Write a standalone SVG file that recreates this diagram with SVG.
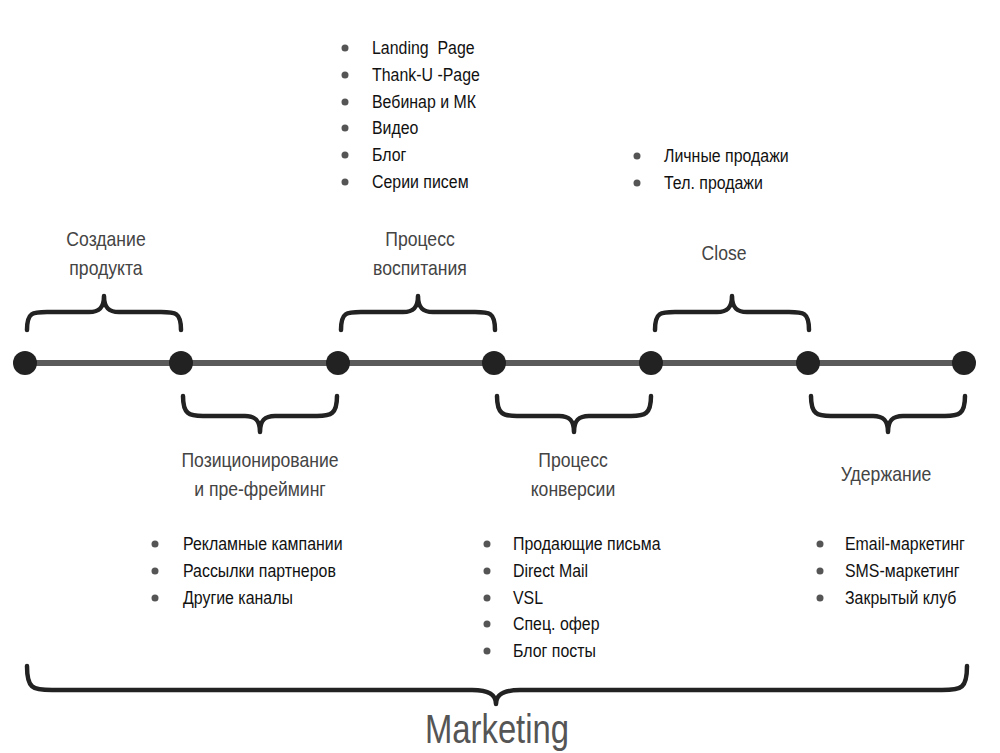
<svg xmlns="http://www.w3.org/2000/svg" width="1000" height="753" viewBox="0 0 1000 753">
<style>
.lbl{font-family:"Liberation Sans",sans-serif;font-size:20px;fill:#444;text-anchor:middle}
.it{font-family:"Liberation Sans",sans-serif;font-size:18.5px;fill:#111}
.bul{fill:#555}
.br{fill:none;stroke:#222;stroke-width:4.5;stroke-linecap:round;stroke-linejoin:round}
.dot{fill:#222}
.mk{font-family:"Liberation Sans",sans-serif;font-size:41px;fill:#555;text-anchor:middle}
</style>
<defs>
<path id="bt" class="br" d="M0,330 C0,312 6,312 20,312 L62,312 C72,312 77,308 77,296 C77,308 82,312 92,312 L134,312 C148,312 154,312 154,330"/>
<path id="bb" class="br" d="M0,396 C0,414 6,416 20,416 L62,416 C72,416 77,420 77,432 C77,420 82,416 92,416 L134,416 C148,416 154,414 154,396"/>
</defs>
<g id="connectors">
<line x1="25" y1="363" x2="964" y2="363" stroke="#5a5a5a" stroke-width="6"/>
<use href="#bt" x="27"/>
<use href="#bt" x="341"/>
<use href="#bt" x="655"/>
<use href="#bb" x="183"/>
<use href="#bb" x="497"/>
<use href="#bb" x="811"/>
<path class="br" d="M27,666 C27,688 32,690 52,690 L472,690 C488,690 496,694 496,704 C496,694 504,690 520,690 L942,690 C962,690 967,688 967,666"/>
</g>
<g id="n0"><circle class="dot" cx="25" cy="363" r="12"/></g>
<g id="n1"><circle class="dot" cx="181" cy="363" r="12"/></g>
<g id="n2"><circle class="dot" cx="338" cy="363" r="12"/></g>
<g id="n3"><circle class="dot" cx="494" cy="363" r="12"/></g>
<g id="n4"><circle class="dot" cx="651" cy="363" r="12"/></g>
<g id="n5"><circle class="dot" cx="808" cy="363" r="12"/></g>
<g id="n6"><circle class="dot" cx="964" cy="363" r="12"/></g>
<g id="l-create" transform="translate(106,0) scale(0.88,1)"><text class="lbl" x="0" y="246">Создание</text><text class="lbl" x="0" y="275">продукта</text></g>
<g id="l-nurture" transform="translate(420,0) scale(0.88,1)"><text class="lbl" x="0" y="246">Процесс</text><text class="lbl" x="0" y="275">воспитания</text></g>
<g id="l-close" transform="translate(724,0) scale(0.88,1)"><text class="lbl" x="0" y="260">Close</text></g>
<g id="l-pos" transform="translate(260,0) scale(0.88,1)"><text class="lbl" x="0" y="467">Позиционирование</text><text class="lbl" x="0" y="496">и пре-фрейминг</text></g>
<g id="l-conv" transform="translate(573,0) scale(0.88,1)"><text class="lbl" x="0" y="467">Процесс</text><text class="lbl" x="0" y="496">конверсии</text></g>
<g id="l-ret" transform="translate(886,0) scale(0.88,1)"><text class="lbl" x="0" y="481">Удержание</text></g>
<g id="list-nurture">
<circle class="bul" cx="345" cy="48" r="3.5"/><circle class="bul" cx="345" cy="75" r="3.5"/><circle class="bul" cx="345" cy="102" r="3.5"/><circle class="bul" cx="345" cy="128" r="3.5"/><circle class="bul" cx="345" cy="155" r="3.5"/><circle class="bul" cx="345" cy="182" r="3.5"/>
<g transform="translate(372,0) scale(0.86,1)">
<text class="it" x="0" y="54" xml:space="preserve">Landing  Page</text>
<text class="it" x="0" y="81">Thank-U -Page</text>
<text class="it" x="0" y="108">Вебинар и МК</text>
<text class="it" x="0" y="134">Видео</text>
<text class="it" x="0" y="161">Блог</text>
<text class="it" x="0" y="188">Серии писем</text>
</g>
</g>
<g id="list-close">
<circle class="bul" cx="637" cy="156" r="3.5"/><circle class="bul" cx="637" cy="183" r="3.5"/>
<g transform="translate(664,0) scale(0.86,1)">
<text class="it" x="0" y="162">Личные продажи</text>
<text class="it" x="0" y="189">Тел. продажи</text>
</g>
</g>
<g id="list-pos">
<circle class="bul" cx="155" cy="544" r="3.5"/><circle class="bul" cx="155" cy="571" r="3.5"/><circle class="bul" cx="155" cy="598" r="3.5"/>
<g transform="translate(183,0) scale(0.86,1)">
<text class="it" x="0" y="550">Рекламные кампании</text>
<text class="it" x="0" y="577">Рассылки партнеров</text>
<text class="it" x="0" y="604">Другие каналы</text>
</g>
</g>
<g id="list-conv">
<circle class="bul" cx="487" cy="544" r="3.5"/><circle class="bul" cx="487" cy="571" r="3.5"/><circle class="bul" cx="487" cy="598" r="3.5"/><circle class="bul" cx="487" cy="624" r="3.5"/><circle class="bul" cx="487" cy="651" r="3.5"/>
<g transform="translate(513,0) scale(0.86,1)">
<text class="it" x="0" y="550">Продающие письма</text>
<text class="it" x="0" y="577">Direct Mail</text>
<text class="it" x="0" y="604">VSL</text>
<text class="it" x="0" y="630">Спец. офер</text>
<text class="it" x="0" y="657">Блог посты</text>
</g>
</g>
<g id="list-ret">
<circle class="bul" cx="820" cy="544" r="3.5"/><circle class="bul" cx="820" cy="571" r="3.5"/><circle class="bul" cx="820" cy="598" r="3.5"/>
<g transform="translate(845,0) scale(0.86,1)">
<text class="it" x="0" y="550">Email-маркетинг</text>
<text class="it" x="0" y="577">SMS-маркетинг</text>
<text class="it" x="0" y="604">Закрытый клуб</text>
</g>
</g>
<g id="marketing" transform="translate(497,0) scale(0.8,1)"><text class="mk" x="0" y="743">Marketing</text></g>
</svg>
